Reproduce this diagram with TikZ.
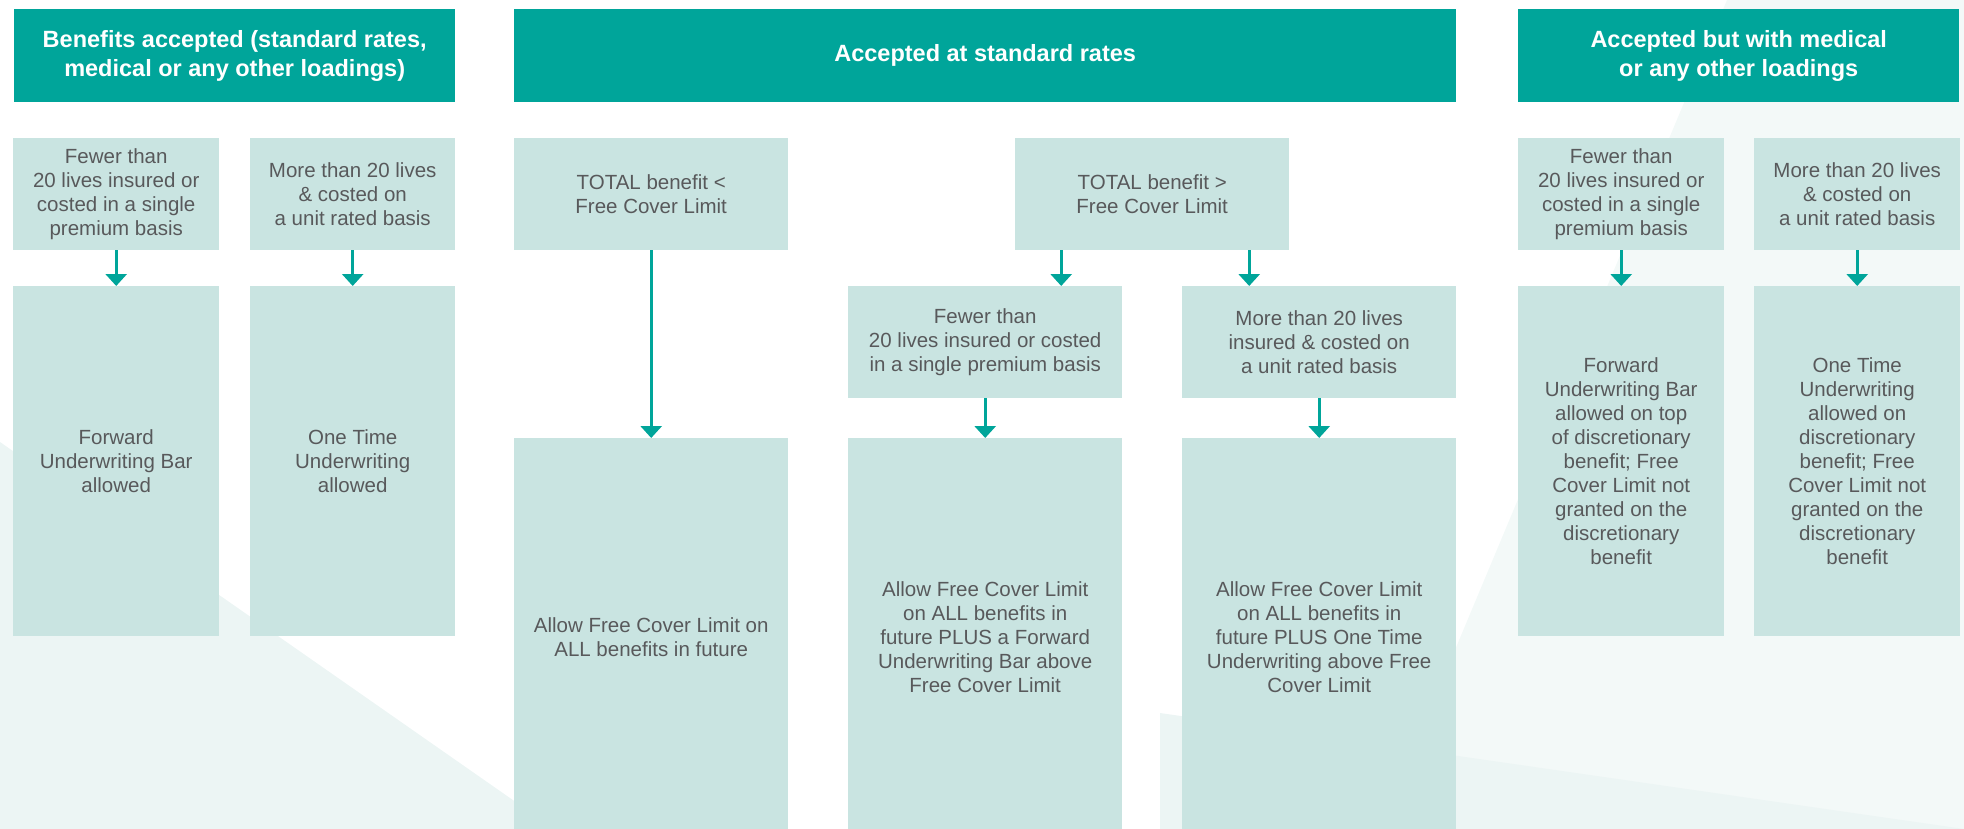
\documentclass[tikz,border=0pt]{standalone}
\usepackage{fontspec}
\setmainfont{Liberation Sans}
\usetikzlibrary{arrows.meta}
\definecolor{tealA}{HTML}{00A59A}
\definecolor{boxfill}{HTML}{C9E4E1}
\definecolor{txt}{HTML}{58595B}
\definecolor{bgA}{HTML}{ECF5F4}
\definecolor{bgB}{HTML}{F3F9F8}
\begin{document}
\begin{tikzpicture}[x=1pt,y=-1pt,
  hdr/.style={fill=tealA, text=white, font=\fontsize{23.5}{29}\selectfont\bfseries,
    align=center, inner sep=0pt, anchor=north west, minimum height=93pt},
  cbox/.style={fill=boxfill, text=txt, font=\fontsize{20.5}{24}\selectfont,
    align=center, inner sep=0pt, anchor=north west},
  arr/.style={draw=tealA, line width=3pt, -{Triangle[width=21pt,length=12pt]}}]
\useasboundingbox (0,0) rectangle (1964,829);
\clip (0,0) rectangle (1964,829);
% faint background shapes
\fill[bgA] (0,442) -- (520,805) -- (520,829) -- (0,829) -- cycle;
\fill[bgB] (1727,0) -- (1964,0) -- (1964,829) -- (1380,829) -- cycle;
\fill[bgA] (1160,713) -- (1964,829) -- (1160,829) -- cycle;
% headers
\node[hdr, minimum width=441pt] (h1) at (14,9) {Benefits accepted (standard rates,\\medical or any other loadings)};
\node[hdr, minimum width=942pt] (h2) at (514,9) {Accepted at standard rates};
\node[hdr, minimum width=441pt] (h3) at (1518,9) {Accepted but with medical\\or any other loadings};
% row 1
\node[cbox, minimum width=206pt, minimum height=112pt] (a1) at (13,138) {Fewer than\\20 lives insured or\\costed in a single\\premium basis};
\node[cbox, minimum width=205pt, minimum height=112pt] (b1) at (250,138) {More than 20 lives\\\& costed on\\a unit rated basis};
\node[cbox, minimum width=274pt, minimum height=112pt] (tl) at (514,138) {TOTAL benefit <\\Free Cover Limit};
\node[cbox, minimum width=274pt, minimum height=112pt] (tg) at (1015,138) {TOTAL benefit >\\Free Cover Limit};
\node[cbox, minimum width=206pt, minimum height=112pt] (c1) at (1518,138) {Fewer than\\20 lives insured or\\costed in a single\\premium basis};
\node[cbox, minimum width=206pt, minimum height=112pt] (d1) at (1754,138) {More than 20 lives\\\& costed on\\a unit rated basis};
% side columns lower boxes
\node[cbox, minimum width=206pt, minimum height=350pt] (a2) at (13,286) {Forward\\Underwriting Bar\\allowed};
\node[cbox, minimum width=205pt, minimum height=350pt] (b2) at (250,286) {One Time\\Underwriting\\allowed};
\node[cbox, minimum width=206pt, minimum height=350pt] (c2) at (1518,286) {Forward\\Underwriting Bar\\allowed on top\\of discretionary\\benefit; Free\\Cover Limit not\\granted on the\\discretionary\\benefit};
\node[cbox, minimum width=206pt, minimum height=350pt] (d2) at (1754,286) {One Time\\Underwriting\\allowed on\\discretionary\\benefit; Free\\Cover Limit not\\granted on the\\discretionary\\benefit};
% middle row 2
\node[cbox, minimum width=274pt, minimum height=112pt] (r2a) at (848,286) {Fewer than\\20 lives insured or costed\\in a single premium basis};
\node[cbox, minimum width=274pt, minimum height=112pt] (r2b) at (1182,286) {More than 20 lives\\insured \& costed on\\a unit rated basis};
% middle bottom
\node[cbox, minimum width=274pt, minimum height=398pt] (m1) at (514,438) {Allow Free Cover Limit on\\ALL benefits in future};
\node[cbox, minimum width=274pt, minimum height=398pt] (m2) at (848,438) {Allow Free Cover Limit\\on ALL benefits in\\future PLUS a Forward\\Underwriting Bar above\\Free Cover Limit};
\node[cbox, minimum width=274pt, minimum height=398pt] (m3) at (1182,438) {Allow Free Cover Limit\\on ALL benefits in\\future PLUS One Time\\Underwriting above Free\\Cover Limit};
% arrows
\draw[arr] (a1.south) -- (a1.south |- a2.north);
\draw[arr] (b1.south) -- (b1.south |- b2.north);
\draw[arr] (c1.south) -- (c1.south |- c2.north);
\draw[arr] (d1.south) -- (d1.south |- d2.north);
\draw[arr] (tl.south) -- (tl.south |- m1.north);
\draw[arr] ([xshift=-91pt]tg.south) -- ([xshift=-91pt]tg.south |- r2a.north);
\draw[arr] ([xshift=97pt]tg.south) -- ([xshift=97pt]tg.south |- r2b.north);
\draw[arr] (r2a.south) -- (r2a.south |- m2.north);
\draw[arr] (r2b.south) -- (r2b.south |- m3.north);
\end{tikzpicture}
\end{document}
